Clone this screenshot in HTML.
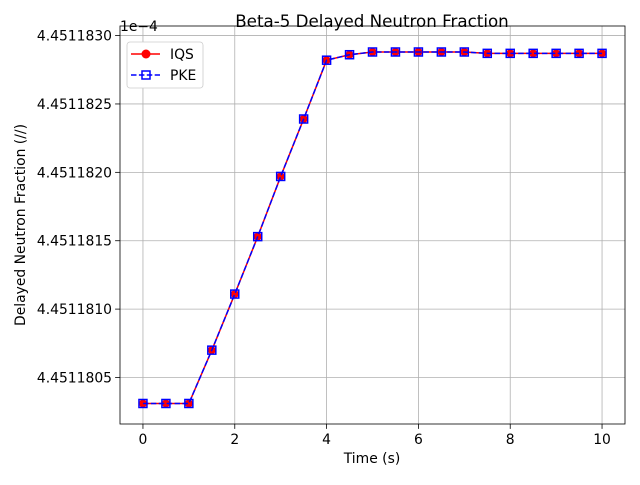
<!DOCTYPE html>
<html><head><meta charset="utf-8"><style>
body{margin:0;background:#fff;font-family:"Liberation Sans",sans-serif;}
svg text{font-family:"DejaVu Sans","Liberation Sans",sans-serif;}
</style></head><body>
<svg id="c" width="640" height="480" xmlns="http://www.w3.org/2000/svg">
<rect width="640" height="480" fill="#fff"/>
<g id="grid"></g><g id="axes"></g><g id="series"></g><g id="legend"></g>
</svg>
<script>
const times=[0,0.5,1,1.5,2,2.5,3,3.5,4,4.5,5,5.5,6,6.5,7,7.5,8,8.5,9,9.5,10];
const iqs=[4.45118031,4.45118031,4.45118031,4.45118070,4.45118111,4.45118153,4.45118197,4.45118239,4.45118282,4.45118286,4.45118288,4.45118288,4.45118288,4.45118288,4.45118288,4.45118287,4.45118287,4.45118287,4.45118287,4.45118287,4.45118287];
const pke=[4.45118031,4.45118031,4.45118031,4.45118070,4.45118111,4.45118153,4.45118197,4.45118239,4.45118282,4.45118286,4.45118288,4.45118288,4.45118288,4.45118288,4.45118288,4.45118287,4.45118287,4.45118287,4.45118287,4.45118287,4.45118287];
const xTicks=[0,2,4,6,8,10];
const yTicks=[4.4511805,4.4511810,4.4511815,4.4511820,4.4511825,4.4511830];
const yTickLabels=["4.4511805","4.4511810","4.4511815","4.4511820","4.4511825","4.4511830"];
const L=120,R=625,T=26,B=424,x0=-0.5,x1=10.5,y0=4.45118016,y1=4.45118307;
const X=v=>L+(v-x0)/(x1-x0)*(R-L), Y=v=>B-(v-y0)/(y1-y0)*(B-T);
const NS="http://www.w3.org/2000/svg";
const FS=13.9;
function mk(p,tag,a){const e=document.createElementNS(NS,tag);for(const k in a)e.setAttribute(k,a[k]);p.appendChild(e);return e;}
const g=document.getElementById('grid'),ax=document.getElementById('axes'),s=document.getElementById('series'),lg=document.getElementById('legend');
xTicks.forEach(t=>{const x=X(t);
 const l=mk(g,'line',{x1:x,x2:x,y1:T,y2:B,stroke:'#b0b0b0','stroke-width':0.8});
 
 
 mk(ax,'line',{x1:x,x2:x,y1:B,y2:B+4.9,stroke:'#000','stroke-width':0.8});
 const tx=mk(ax,'text',{x:x,y:B+20,'font-size':FS,'text-anchor':'middle'});tx.textContent=t;
 
 
});
yTicks.forEach((t,i)=>{const y=Y(t);
 const l=mk(g,'line',{x1:L,x2:R,y1:y,y2:y,stroke:'#b0b0b0','stroke-width':0.8});
 
 
 mk(ax,'line',{x1:L-4.9,x2:L,y1:y,y2:y,stroke:'#000','stroke-width':0.8});
 const tx=mk(ax,'text',{x:L-8,y:y+5,'font-size':FS,'text-anchor':'end'});tx.textContent=yTickLabels[i];
 
 
});
const fr=mk(ax,'rect',{x:L,y:T,width:R-L,height:B-T,fill:'none',stroke:'#000','stroke-width':0.8});


function txt(x,y,str,sz,name,extra){const e=mk(ax,'text',Object.assign({x:x,y:y,'font-size':sz},extra||{}));e.textContent=str;
 
 return e;}
txt(372,27,'Beta-5 Delayed Neutron Fraction',16.7,'chart-title',{'text-anchor':'middle'});
txt(372,463,'Time (s)',FS,'x-axis-title',{'text-anchor':'middle'});
txt(25,225,'Delayed Neutron Fraction (//)',FS,'y-axis-title',{'text-anchor':'middle',transform:'rotate(-90 25 225)'});
txt(120,31,'1e\u22124',FS,'y-axis-offset',{});
const pi=mk(s,'polyline',{points:times.map((t,i)=>X(t)+','+Y(iqs[i])).join(' '),fill:'none',stroke:'#ff0000','stroke-width':1.5});


times.forEach((t,i)=>{const c=mk(s,'circle',{cx:X(t),cy:Y(iqs[i]),r:4,fill:'#ff0000'});
 
 });
const pp=mk(s,'polyline',{points:times.map((t,i)=>X(t)+','+Y(pke[i])).join(' '),fill:'none',stroke:'#0000ff','stroke-width':1.5,'stroke-dasharray':'5.5,2.4'});


times.forEach((t,i)=>{const c=mk(s,'rect',{x:X(t)-4,y:Y(pke[i])-4,width:8,height:8,fill:'none',stroke:'#0000ff','stroke-width':1.5});
 
 });
const lb=mk(lg,'rect',{x:127,y:42,width:76,height:46,rx:3,fill:'#fff',stroke:'#cccccc','stroke-width':0.8});


mk(lg,'line',{x1:131,x2:160,y1:54,y2:54,stroke:'#ff0000','stroke-width':1.5});
mk(lg,'circle',{cx:146,cy:54,r:4.5,fill:'#ff0000'});
const t1=mk(lg,'text',{x:170,y:59,'font-size':FS});t1.textContent='IQS';


mk(lg,'line',{x1:131,x2:160,y1:75,y2:75,stroke:'#0000ff','stroke-width':1.5,'stroke-dasharray':'5.5,2.4'});
mk(lg,'rect',{x:142,y:71,width:8,height:8,fill:'none',stroke:'#0000ff','stroke-width':1.5});
const t2=mk(lg,'text',{x:170,y:80,'font-size':FS});t2.textContent='PKE';


</script>
</body></html>
